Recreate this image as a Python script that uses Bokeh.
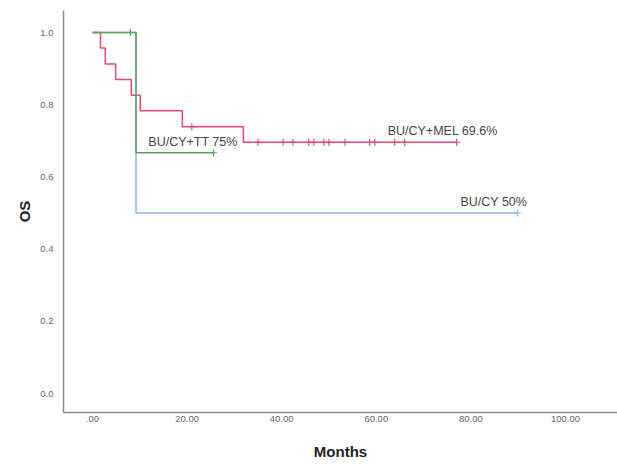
from bokeh.plotting import figure
from bokeh.models import Range1d, FixedTicker, ColumnDataSource
from bokeh.core.properties import value
from bokeh.embed import file_html
from bokeh.resources import INLINE

# Kaplan-Meier step data (time in months, overall survival)
red_t = [0, 1.7, 2.7, 4.9, 8.2, 10.1, 19.0, 31.9, 77.0]
red_s = [1.0, 0.957, 0.913, 0.870, 0.826, 0.783, 0.739, 0.696, 0.696]
red_cens_t = [21.0, 35.0, 40.3, 42.4, 45.7, 46.8, 48.9, 50.0, 53.4, 58.6, 59.7, 63.9, 66.0, 77.0]
red_cens_s = [0.739, 0.696, 0.696, 0.696, 0.696, 0.696, 0.696, 0.696, 0.696, 0.696, 0.696, 0.696, 0.696, 0.696]

green_t = [0, 9.2, 25.6]
green_s = [1.0, 0.667, 0.667]
green_cens_t = [8.0, 25.6]
green_cens_s = [1.0, 0.667]

blue_t = [0, 9.2, 89.9]
blue_s = [1.0, 0.5, 0.5]
blue_cens_t = [89.9]
blue_cens_s = [0.5]

label_text = ["BU/CY+TT 75%", "BU/CY+MEL 69.6%", "BU/CY 50%"]
label_x = [11.8, 62.4, 77.8]
label_y = [0.698, 0.726, 0.53]

x_ticks = [0, 20, 40, 60, 80, 100]
x_tick_labels = [".00", "20.00", "40.00", "60.00", "80.00", "100.00"]
y_ticks = [0.0, 0.2, 0.4, 0.6, 0.8, 1.0]
y_tick_labels = ["0.0", "0.2", "0.4", "0.6", "0.8", "1.0"]

RED = "#e8486c"
GREEN = "#5aa55a"
BLUE = "#8db4f2"

p = figure(width=617, height=464, output_backend="svg", toolbar_location=None,
           x_range=Range1d(-6.13, 111.0), y_range=Range1d(-0.0526, 1.061),
           min_border_left=63, min_border_right=0, min_border_top=10, min_border_bottom=52)
p.outline_line_color = None
p.xgrid.visible = False
p.ygrid.visible = False
p.background_fill_color = "white"
p.border_fill_color = "white"

p.step(blue_t, blue_s, mode="after", line_color=BLUE, line_width=1.5)
p.scatter(blue_cens_t, blue_cens_s, marker="cross", size=7, line_color=BLUE, line_width=1.2)
p.step(red_t, red_s, mode="after", line_color=RED, line_width=1.5)
p.scatter(red_cens_t, red_cens_s, marker="cross", size=7, line_color=RED, line_width=1.2)
p.step(green_t, green_s, mode="after", line_color=GREEN, line_width=1.5)
p.scatter(green_cens_t, green_cens_s, marker="cross", size=7, line_color=GREEN, line_width=1.2)

src = ColumnDataSource(dict(x=label_x, y=label_y, t=label_text))
p.text(x="x", y="y", text="t", source=src, text_font=value("Liberation Sans"),
       text_font_size="12.5px", text_color="#444444", text_baseline="middle", text_align="left")

for ax in (p.xaxis[0], p.yaxis[0]):
    ax.axis_line_color = "#8c8c8c"
    ax.axis_line_width = 1.5
    ax.major_tick_line_color = None
    ax.minor_tick_line_color = None
    ax.major_tick_out = 0
    ax.major_tick_in = 0
    ax.minor_tick_out = 0
    ax.minor_tick_in = 0
    ax.major_label_text_font = "Liberation Sans"
    ax.major_label_text_font_size = "9.5px"
    ax.major_label_text_color = "#666666"
    ax.axis_label_text_font = "Liberation Sans"
    ax.axis_label_text_font_style = "bold"
    ax.axis_label_text_font_size = "15px"
    ax.axis_label_text_color = "#222222"

p.xaxis.ticker = FixedTicker(ticks=x_ticks)
p.xaxis.major_label_overrides = {t: l for t, l in zip(x_ticks, x_tick_labels)}
p.yaxis.ticker = FixedTicker(ticks=y_ticks)
p.yaxis.major_label_overrides = {t: l for t, l in zip(y_ticks, y_tick_labels)}
p.xaxis.axis_label = "Months"
p.yaxis.axis_label = "OS"
p.xaxis.major_label_standoff = 3
p.xaxis.axis_label_standoff = 18
p.yaxis.major_label_standoff = 10
p.yaxis.axis_label_standoff = 4

open("out.html", "w").write(file_html(p, INLINE))
